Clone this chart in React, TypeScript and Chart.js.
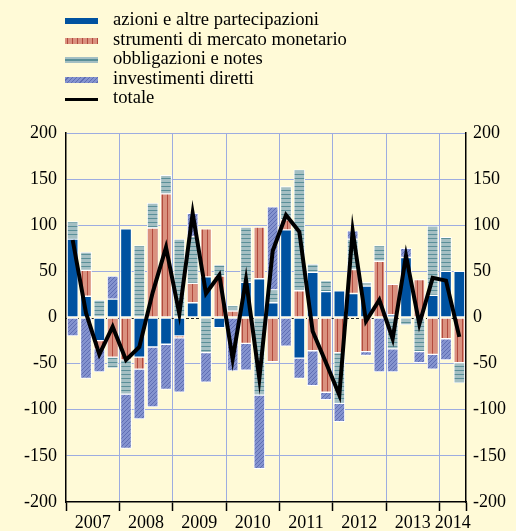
import React, { useEffect, useRef } from 'react';
import { Chart, registerables } from 'chart.js';

Chart.register(...registerables);

// ---- DATA ----
const quarters = [
  '2007 T1', '2007 T2', '2007 T3', '2007 T4',
  '2008 T1', '2008 T2', '2008 T3', '2008 T4',
  '2009 T1', '2009 T2', '2009 T3', '2009 T4',
  '2010 T1', '2010 T2', '2010 T3', '2010 T4',
  '2011 T1', '2011 T2', '2011 T3', '2011 T4',
  '2012 T1', '2012 T2', '2012 T3', '2012 T4',
  '2013 T1', '2013 T2', '2013 T3', '2013 T4',
  '2014 T1', '2014 T2',
];

const yearLabels = ['2007', '2008', '2009', '2010', '2011', '2012', '2013', '2014'];
const quartersPerYear = [4, 4, 4, 4, 4, 4, 4, 2];

const azioni = [
  85, 23, -25, 20, 96, -43, -32, -29, -20, 16, 44, -11,
  0, 38, 42, 16, 95, -44, 49, 28, 29, 26, 34, 0,
  3, 65, 0, 24, 50, 50,
];
const strumenti = [
  0, 28, -9, -43, -46, -13, 97, 134, -2, 21, 52, 45,
  7, -28, 56, -48, 11, 29, -36, -81, -38, 26, -37, 61,
  33, 0, 41, -40, -23, -49,
];
const obbligazioni = [
  19, 20, 19, -12, -37, 78, 27, 20, 85, 51, -38, 12,
  6, 60, -84, 14, 36, 131, 9, 12, -55, 33, 4, 17,
  -34, -8, -37, 75, 37, -22,
];
const investimenti = [
  -20, -66, -25, 25, -59, -54, -65, -49, -59, 25, -32, 0,
  -58, -29, -80, 90, -31, -22, -38, -8, -20, 9, -4, -59,
  -25, 10, -12, -16, -23, 0,
];
const totale = [
  84, 5, -40, -10, -46, -32, 27, 76, 4, 113, 26, 46,
  -45, 41, -66, 72, 111, 93, -15, -49, -84, 94, -4, 19,
  -23, 67, -7, 43, 40, -21,
];

const yTicks = [-200, -150, -100, -50, 0, 50, 100, 150, 200];

// ---- STYLE ----
const FONT = '"Liberation Serif", "Times New Roman", Times, serif';
const BG = '#FFFAD7';
const GRID = '#9DACE0';
const BLUE = '#0052A0';
const RED_BASE = '#DA917F';
const RED_LINE = '#B24A3E';
const TEAL_BASE = '#A4BFC3';
const TEAL_LINE = '#5A8F98';
const PURPLE_BASE = '#8493CF';
const PURPLE_LINE = '#5F6EB3';

function makePattern(kind: string): CanvasPattern | string {
  const c = document.createElement('canvas');
  const ctx = c.getContext('2d');
  if (!ctx) return '#888';
  if (kind === 'red') {
    c.width = 5; c.height = 4;
    ctx.fillStyle = RED_BASE; ctx.fillRect(0, 0, 5, 4);
    ctx.fillStyle = RED_LINE; ctx.fillRect(2, 0, 1, 4);
  } else if (kind === 'teal') {
    c.width = 4; c.height = 4;
    ctx.fillStyle = TEAL_BASE; ctx.fillRect(0, 0, 4, 4);
    ctx.fillStyle = TEAL_LINE; ctx.fillRect(0, 2, 4, 1);
  } else {
    c.width = 4; c.height = 4;
    ctx.fillStyle = PURPLE_BASE; ctx.fillRect(0, 0, 4, 4);
    ctx.fillStyle = PURPLE_LINE;
    for (let i = 0; i < 4; i++) ctx.fillRect(i, 3 - i, 1, 1);
  }
  return ctx.createPattern(c, 'repeat') || '#888';
}

function yearBoundaries(): number[] {
  const b = [0];
  let acc = 0;
  for (const q of quartersPerYear) { acc += q; b.push(acc); }
  return b;
}
function yearCenters(): number[] {
  const c: number[] = [];
  let acc = 0;
  for (const q of quartersPerYear) { c.push(acc + q / 2); acc += q; }
  return c;
}

const zeroLine = {
  id: 'zeroLine',
  beforeDatasetsDraw(chart: any) {
    const { ctx, chartArea, scales } = chart;
    const y = Math.round(scales.y.getPixelForValue(0)) + 0.5;
    ctx.save();
    ctx.strokeStyle = '#222';
    ctx.lineWidth = 1;
    ctx.setLineDash([3, 2]);
    ctx.beginPath();
    ctx.moveTo(chartArea.left, y);
    ctx.lineTo(chartArea.right, y);
    ctx.stroke();
    ctx.restore();
  },
};

const legendItems = [
  { label: 'azioni e altre partecipazioni', bg: BLUE },
  {
    label: 'strumenti di mercato monetario',
    bg: `repeating-linear-gradient(90deg, ${RED_BASE} 0 2px, ${RED_LINE} 2px 3px, ${RED_BASE} 3px 5px)`,
  },
  {
    label: 'obbligazioni e notes',
    bg: `linear-gradient(${TEAL_BASE} 0 2px, ${TEAL_LINE} 2px 4px, ${TEAL_BASE} 4px 6px)`,
  },
  {
    label: 'investimenti diretti',
    bg: `repeating-linear-gradient(135deg, ${PURPLE_BASE} 0 2px, ${PURPLE_LINE} 2px 3px)`,
  },
  { label: 'totale', bg: '#000', line: true },
];

export default function App() {
  const ref = useRef<HTMLCanvasElement>(null);

  useEffect(() => {
    document.body.style.margin = '0';
    const canvas = ref.current;
    if (!canvas) return;

    const boundaries = yearBoundaries();
    const centers = yearCenters();
    const isBoundary = (v: number) => boundaries.includes(v);
    const toPts = (arr: number[]) =>
      arr.map((v, i) => ({ x: i + 0.5, y: v === 0 ? null : v }));

    const barCommon = {
      type: 'bar' as const,
      stack: 'bars',
      order: 1,
      barThickness: 11,
      borderWidth: 1,
      borderColor: '#FFFFFF',
      borderSkipped: false,
    };

    const chart = new Chart(canvas, {
      type: 'bar',
      data: {
        labels: quarters,
        datasets: [
          { ...barCommon, label: 'azioni e altre partecipazioni', data: toPts(azioni), backgroundColor: BLUE },
          { ...barCommon, label: 'strumenti di mercato monetario', data: toPts(strumenti), backgroundColor: makePattern('red') },
          { ...barCommon, label: 'obbligazioni e notes', data: toPts(obbligazioni), backgroundColor: makePattern('teal') },
          { ...barCommon, label: 'investimenti diretti', data: toPts(investimenti), backgroundColor: makePattern('purple') },
          {
            type: 'line',
            label: 'totale',
            stack: 'total',
            order: 0,
            data: totale.map((v, i) => ({ x: i + 0.5, y: v })),
            borderColor: '#000',
            borderWidth: 4,
            pointRadius: 0,
            tension: 0,
            fill: false,
          } as any,
        ],
      },
      options: {
        responsive: false,
        animation: false,
        devicePixelRatio: 1,
        layout: { padding: { top: 133, left: 0, right: 0, bottom: 0 } },
        plugins: { legend: { display: false }, tooltip: { enabled: false } },
        scales: {
          x: {
            type: 'linear',
            min: 0,
            max: quarters.length,
            offset: false,
            stacked: true,
            afterBuildTicks: (s: any) => {
              s.ticks = [...boundaries, ...centers].sort((a, b) => a - b).map((v) => ({ value: v }));
            },
            afterFit: (s: any) => { s.height = 29; },
            ticks: {
              autoSkip: false,
              maxRotation: 0,
              minRotation: 0,
              padding: 1,
              color: '#000',
              font: { family: FONT, size: 18 },
              callback: (v: any) => {
                const idx = centers.indexOf(Number(v));
                return idx >= 0 ? yearLabels[idx] : '';
              },
            },
            grid: {
              offset: false,
              color: (ctx: any) => {
                const v = ctx.tick ? ctx.tick.value : NaN;
                if (v === 0 || v === quarters.length) return 'rgba(0,0,0,0)';
                return isBoundary(v) ? GRID : 'rgba(0,0,0,0)';
              },
              tickColor: (ctx: any) => (ctx.tick && isBoundary(ctx.tick.value) ? '#000' : 'rgba(0,0,0,0)'),
              tickLength: 9,
              tickWidth: 1.5,
              lineWidth: 1,
              drawTicks: true,
            },
            border: { color: '#000', width: 1.5 },
          },
          y: {
            type: 'linear',
            position: 'left',
            min: -200,
            max: 200,
            stacked: true,
            afterBuildTicks: (s: any) => { s.ticks = yTicks.map((v) => ({ value: v })); },
            afterFit: (s: any) => { s.width = 66; },
            ticks: { padding: 9, color: '#000', font: { family: FONT, size: 18 } },
            grid: {
              color: (ctx: any) => {
                const v = ctx.tick ? ctx.tick.value : NaN;
                return v === 0 || v === -200 ? 'rgba(0,0,0,0)' : GRID;
              },
              lineWidth: 1,
              drawTicks: false,
            },
            border: { color: '#000', width: 1.5 },
          },
          y2: {
            type: 'linear',
            position: 'right',
            min: -200,
            max: 200,
            afterBuildTicks: (s: any) => { s.ticks = yTicks.map((v) => ({ value: v })); },
            afterFit: (s: any) => { s.width = 50; },
            ticks: { padding: 7, color: '#000', font: { family: FONT, size: 18 } },
            grid: { drawOnChartArea: false, drawTicks: false },
            border: { color: '#000', width: 1.5 },
          },
        },
      } as any,
      plugins: [zeroLine],
    });

    return () => chart.destroy();
  }, []);

  return (
    <div
      style={{
        position: 'fixed',
        left: 0,
        top: 0,
        width: 516,
        height: 531,
        background: BG,
        overflow: 'hidden',
      }}
    >
      <canvas
        ref={ref}
        width={516}
        height={531}
        style={{ position: 'absolute', left: 0, top: 0, width: 516, height: 531 }}
      />
      {legendItems.map((it, i) => (
        <div
          key={it.label}
          style={{
            position: 'absolute',
            left: 65,
            top: 9 + i * 19.6,
            height: 20,
            lineHeight: '20px',
            fontFamily: FONT,
            fontSize: 18.6,
            color: '#000',
            whiteSpace: 'nowrap',
          }}
        >
          <span
            style={{
              position: 'absolute',
              left: 0,
              top: it.line ? 10.5 : 9,
              width: 33,
              height: it.line ? 3 : 6,
              background: it.bg,
            }}
          />
          <span style={{ position: 'absolute', left: 48, top: 0 }}>{it.label}</span>
        </div>
      ))}
    </div>
  );
}
